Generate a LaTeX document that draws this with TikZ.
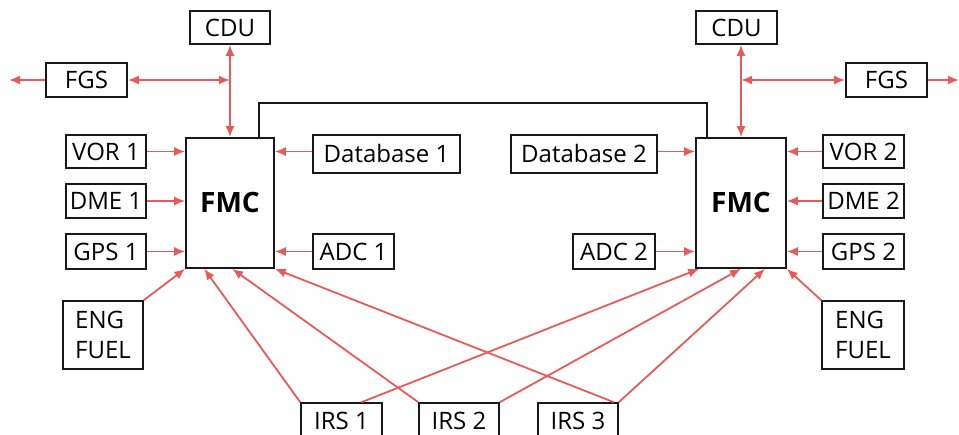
\documentclass[tikz,border=0pt]{standalone}
\usepackage{fontspec}
\setmainfont{Open Sans}
\usetikzlibrary{arrows.meta,calc}
\definecolor{lnred}{HTML}{E85A5A}
\begin{document}
\begin{tikzpicture}[x=1pt,y=-1pt,
  box/.style={draw=black!90,line width=1.6pt,fill=white,inner sep=0pt,font=\fontsize{24}{30}\selectfont},
  fmcbox/.style={box,font=\fontsize{28}{30}\selectfont\bfseries},
  link/.style={draw=lnred,line width=1.8pt,-{Latex[length=11pt,width=9pt]}},
  dlink/.style={draw=lnred,line width=1.8pt,{Latex[length=11pt,width=9pt]}-{Latex[length=11pt,width=9pt]}},
  bus/.style={draw=black!90,line width=1.6pt}]
\useasboundingbox (0,0) rectangle (959,435);
% left side
\node[box,minimum width=80,minimum height=33] (CDU1) at (230,27.5) {CDU};
\node[box,minimum width=81,minimum height=34] (FGS1) at (86.5,80) {FGS};
\node[fmcbox,minimum width=88,minimum height=130] (FMC1) at (230,203) {FMC};
\node[box,minimum width=80,minimum height=33] (VOR1) at (106,151.5) {VOR 1};
\node[box,minimum width=80,minimum height=34] (DME1) at (106,201) {DME 1};
\node[box,minimum width=80,minimum height=35] (GPS1) at (106,251.5) {GPS 1};
\node[box,minimum width=80,minimum height=68,align=left] (ENG1) at (103,335) {ENG\\FUEL};
\node[box,minimum width=147,minimum height=38] (DB1) at (386.5,154) {Database 1};
\node[box,minimum width=81,minimum height=35] (ADC1) at (353.5,251.5) {ADC 1};
% IRS
\node[box,minimum width=81,minimum height=36] (IRS1) at (341.5,421) {IRS 1};
\node[box,minimum width=80,minimum height=36] (IRS2) at (459,421) {IRS 2};
\node[box,minimum width=80,minimum height=36] (IRS3) at (578,421) {IRS 3};
% right side
\node[box,minimum width=81,minimum height=33] (CDU2) at (736.5,27.5) {CDU};
\node[box,minimum width=81,minimum height=34] (FGS2) at (886.5,80) {FGS};
\node[fmcbox,minimum width=90,minimum height=130] (FMC2) at (741,203) {FMC};
\node[box,minimum width=146,minimum height=38] (DB2) at (584,154) {Database 2};
\node[box,minimum width=81,minimum height=33] (VOR2) at (863.5,151.5) {VOR 2};
\node[box,minimum width=81,minimum height=34] (DME2) at (863.5,201) {DME 2};
\node[box,minimum width=81,minimum height=35] (GPS2) at (863.5,251.5) {GPS 2};
\node[box,minimum width=82,minimum height=35] (ADC2) at (614,251.5) {ADC 2};
\node[box,minimum width=82,minimum height=68,align=left] (ENG2) at (863,335) {ENG\\FUEL};
\coordinate (outL) at (9,80);
\coordinate (outR) at (959,80);
% black bus line
\draw[bus] ([xshift=-16pt]FMC1.north east) -- ++(0,-34) -| ([xshift=12pt]FMC2.north west);
% left connections
\draw[dlink] (CDU1.south) -- (FMC1.north);
\draw[dlink] (FGS1.east) -- (FGS1.east -| FMC1.north);
\draw[link] (FGS1.west) -- (outL);
\draw[link] (VOR1.east) -- (VOR1.east -| FMC1.west);
\draw[link] (DME1.east) -- (DME1.east -| FMC1.west);
\draw[link] (GPS1.east) -- (GPS1.east -| FMC1.west);
\draw[link] (DB1.west |- VOR1.east) -- (VOR1.east -| FMC1.east);
\draw[link] (ADC1.west) -- (ADC1.west -| FMC1.east);
\draw[link] (ENG1.north east) -- (FMC1.south west);
% right connections
\draw[dlink] (CDU2.south -| FMC2.north) -- (FMC2.north);
\draw[dlink] (FGS2.west -| FMC2.north) -- (FGS2.west);
\draw[link] (FGS2.east) -- (outR);
\draw[link] (VOR2.west) -- (VOR2.west -| FMC2.east);
\draw[link] (DME2.west) -- (DME2.west -| FMC2.east);
\draw[link] (GPS2.west) -- (GPS2.west -| FMC2.east);
\draw[link] (DB2.east |- VOR2.west) -- (VOR2.west -| FMC2.west);
\draw[link] (ADC2.east) -- (ADC2.east -| FMC2.west);
\draw[link] (ENG2.north west) -- (FMC2.south east);
% IRS connections
\draw[link] (IRS1.north west) -- ([xshift=19pt]FMC1.south west);
\draw[link] ([xshift=20pt]IRS1.north) -- ([xshift=4pt]FMC2.south west);
\draw[link] (IRS2.north west) -- ([xshift=47pt]FMC1.south west);
\draw[link] (IRS2.north east) -- (FMC2.south);
\draw[link] ([xshift=-5pt]IRS3.north east) -- (FMC1.south east);
\draw[link] (IRS3.north east) -- ([xshift=24pt]FMC2.south);
\end{tikzpicture}
\end{document}
